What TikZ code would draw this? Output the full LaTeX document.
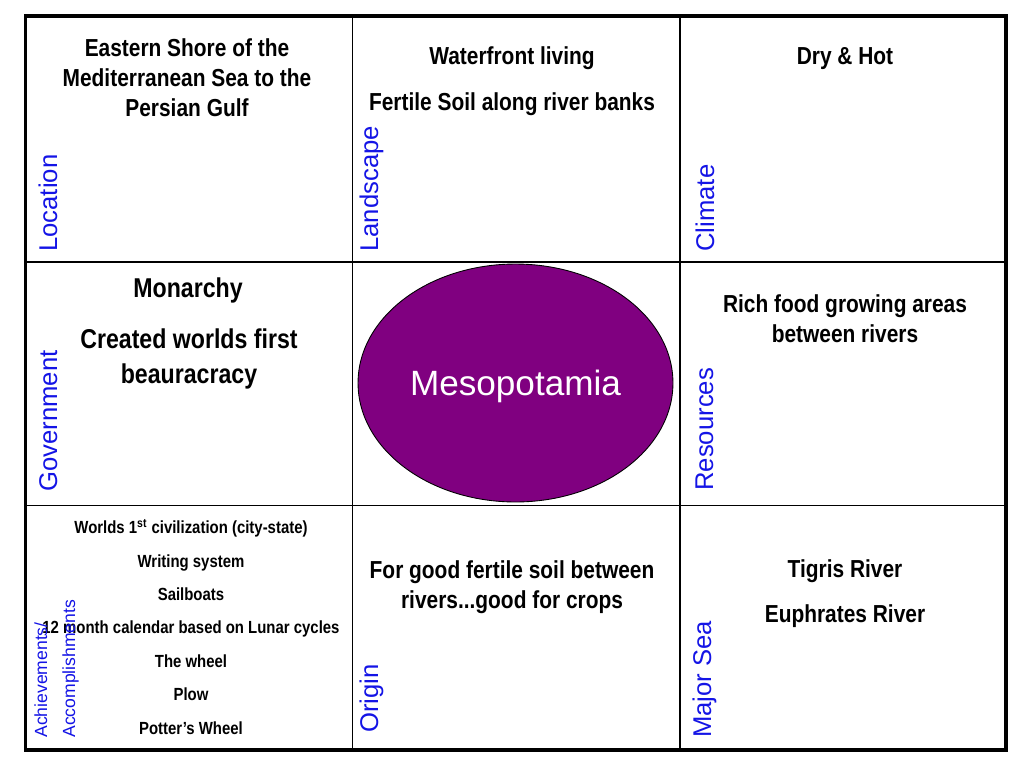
\documentclass[tikz,border=0pt]{standalone}
\usepackage{fontspec}
\setmainfont{Liberation Sans}
\newfontfamily\narrowfont[FakeStretch=0.85]{Liberation Sans}
\usetikzlibrary{shapes.geometric}
\definecolor{labelblue}{RGB}{20,20,230}
\definecolor{mesopurple}{RGB}{128,0,128}

\begin{document}
\begin{tikzpicture}[x=0.02cm, y=-0.02cm,
  fact/.style={font=\narrowfont\bfseries\fontsize{14}{17}\selectfont, align=center, anchor=base, inner sep=0pt},
  bigfact/.style={fact, font=\narrowfont\bfseries\fontsize{15.5}{19.4}\selectfont},
  smallfact/.style={fact, font=\narrowfont\bfseries\fontsize{10}{19}\selectfont},
  tag/.style={rotate=90, anchor=base west, inner sep=0pt, text=labelblue, font=\fontsize{14.6}{17}\selectfont},
  smalltag/.style={tag, font=\fontsize{10}{12}\selectfont}]
  \useasboundingbox[fill=white] (0,0) rectangle (1024,768);

  % Grid
  \draw[line width=0.85pt] (352.5,16) -- (352.5,750) (680,16) -- (680,750)
    (25.5,262) -- (1006,262) (25.5,505.5) -- (1006,505.5);
  \draw[line width=1.8pt] (25.5,16) rectangle (1006,750);

  % Centre
  \node[ellipse, draw=black, line width=0.5pt, fill=mesopurple, minimum width=6.3cm,
    minimum height=4.76cm, inner sep=0pt, text=white, text depth=0pt,
    font=\fontsize{20}{24}\selectfont] (meso) at (515.5,383) {Mesopotamia};

  % Facts (multi-line nodes sit on their last baseline)
  \node[fact] (shore) at (187,116) {Eastern Shore of the\\Mediterranean Sea to the\\Persian Gulf};
  \node[fact] (water) at (512,64) {Waterfront living};
  \node[fact] (soil) at (512,110) {Fertile Soil along river banks};
  \node[fact] (dryhot) at (845,64) {Dry \& Hot};
  \node[bigfact] (monarchy) at (188,297) {Monarchy};
  \node[bigfact] (bureau) at (189,383) {Created worlds first\\beauracracy};
  \node[fact] (food) at (845,342) {Rich food growing areas\\between rivers};
  \node[smallfact] (achieve) at (191,734) {Worlds 1\textsuperscript{st} civilization (city-state)\\Writing system\\Sailboats\\12 month calendar based on Lunar cycles\\The wheel\\Plow\\Potter’s Wheel};
  \node[fact] (crops) at (512,608) {For good fertile soil between\\rivers...good for crops};
  \node[fact] (tigris) at (845,577) {Tigris River};
  \node[fact] (euphrates) at (845,622) {Euphrates River};

  % Tags
  \node[tag] (location) at (57,252) {Location};
  \node[tag] (landscape) at (378,252) {Landscape};
  \node[tag] (climate) at (714,252) {Climate};
  \node[tag] (government) at (57,492) {Government};
  \node[tag] (resources) at (713,491) {Resources};
  \node[tag] (origin) at (378,733) {Origin};
  \node[tag] (majorsea) at (711,738) {Major Sea};
  \node[smalltag] (achievements) at (47,738) {Achievements/};
  \node[smalltag] (accomplish) at (75,738) {Accomplishments};
\end{tikzpicture}
\end{document}
